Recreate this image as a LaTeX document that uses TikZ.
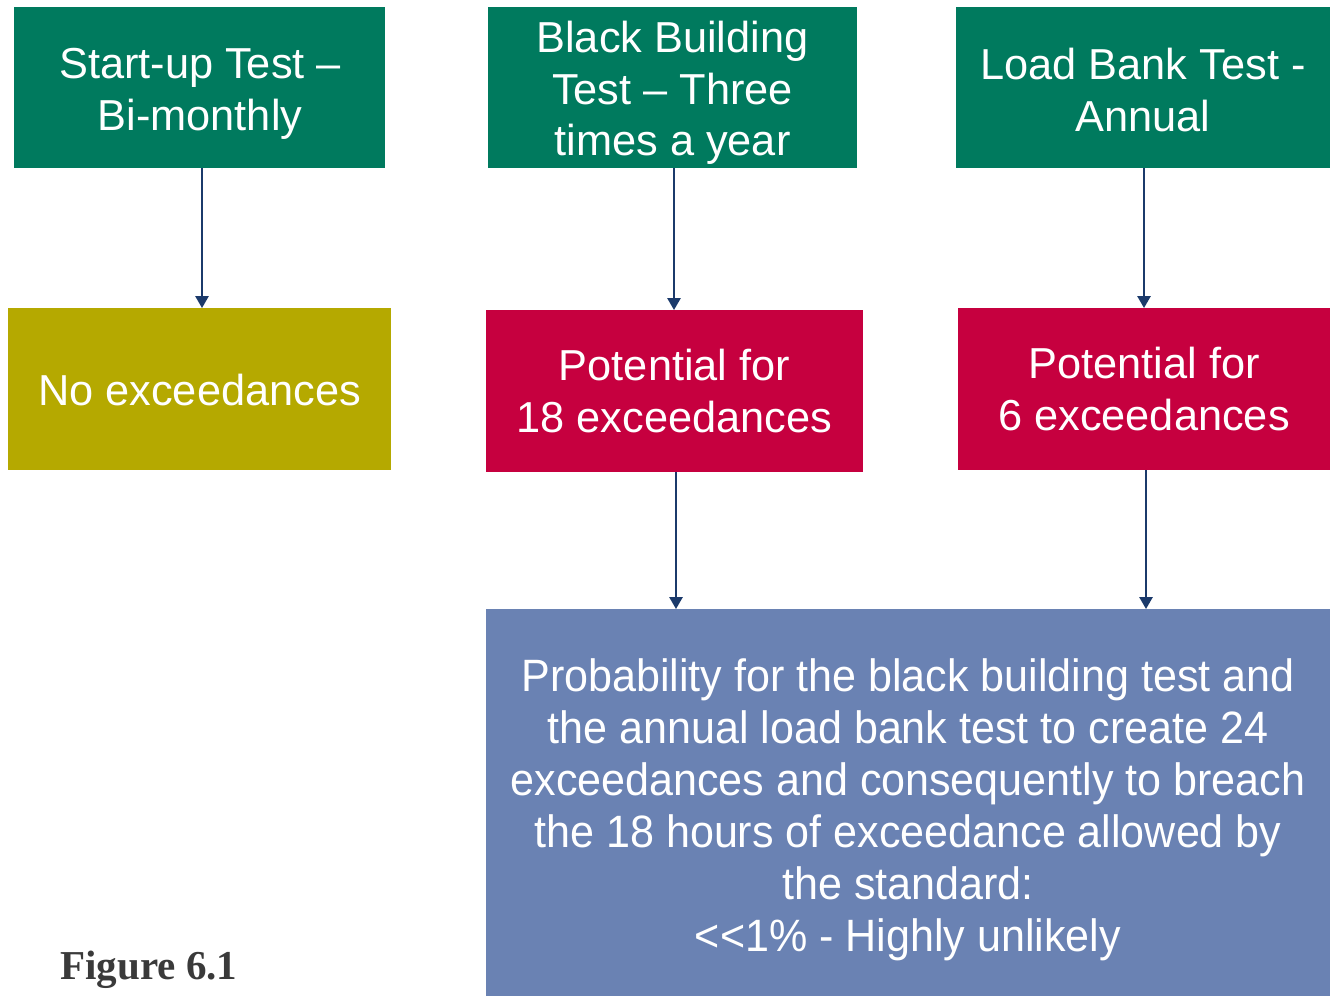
\documentclass[tikz,border=0pt]{standalone}
\usepackage{fontspec}
\setmainfont{Liberation Sans}
\newfontfamily\narrowsans[FakeStretch=0.95]{Liberation Sans}
\newfontfamily\captionserif{Liberation Serif}
\usetikzlibrary{arrows.meta}
\definecolor{testgreen}{HTML}{007A5E}
\definecolor{noneolive}{HTML}{B5A900}
\definecolor{riskred}{HTML}{C6003F}
\definecolor{probblue}{HTML}{6A82B3}
\definecolor{linknavy}{HTML}{1B3A6B}
\definecolor{captiongray}{HTML}{3A3A3A}
\begin{document}
\begin{tikzpicture}[x=0.75pt,y=-0.75pt,
  box/.style={inner sep=0pt,text=white,align=center,font=\fontsize{32.5}{38.5}\selectfont},
  link/.style={draw=linknavy,line width=1.4pt,-{Triangle[length=9pt,width=10pt]}}]
\useasboundingbox (0,0) rectangle (1330,996);
% top row: test regimes
\fill[testgreen] (14,7) rectangle (385,168);
\node[box] (t1) at (200,94) {Start-up Test --\\Bi-monthly};
\coordinate (t1b) at (202,168);
\fill[testgreen] (488,7) rectangle (857,168);
\node[box] (t2) at (672.5,93) {Black Building\\Test -- Three\\times a year};
\coordinate (t2b) at (674,168);
\fill[testgreen] (956,7) rectangle (1330,168);
\node[box] (t3) at (1143,90) {Load Bank Test -\\Annual};
\coordinate (t3b) at (1144,168);
% middle row: outcomes
\fill[noneolive] (8,308) rectangle (391,470);
\node[box] (o1) at (199.5,390) {No exceedances};
\coordinate (o1t) at (202,308);
\fill[riskred] (486,310) rectangle (863,472);
\node[box] (o2) at (674.5,391) {Potential for\\18 exceedances};
\coordinate (o2t) at (674,310);
\coordinate (o2b) at (676,472);
\fill[riskred] (958,308) rectangle (1330,470);
\node[box] (o3) at (1144,389) {Potential for\\6 exceedances};
\coordinate (o3t) at (1144,308);
\coordinate (o3b) at (1146,470);
% bottom: combined probability
\fill[probblue] (486,609) rectangle (1330,996);
\node[box,font=\narrowsans\fontsize{34}{39}\selectfont] (p) at (908,810)
  {Probability for the black building test and\\
   the annual load bank test to create 24\\
   exceedances and consequently to breach\\
   the 18 hours of exceedance allowed by\\
   the standard:\\
   <{}<1\% - Highly unlikely};
\coordinate (pl) at (676,609);
\coordinate (pr) at (1146,609);
% connectors
\draw[link] (t1b) -- (o1t);
\draw[link] (t2b) -- (o2t);
\draw[link] (t3b) -- (o3t);
\draw[link] (o2b) -- (pl);
\draw[link] (o3b) -- (pr);
% caption
\node[anchor=base west,inner sep=0pt,text=captiongray,font=\captionserif\bfseries\fontsize{30.8}{36}\selectfont] (cap) at (60,979) {Figure 6.1};
\end{tikzpicture}
\end{document}
